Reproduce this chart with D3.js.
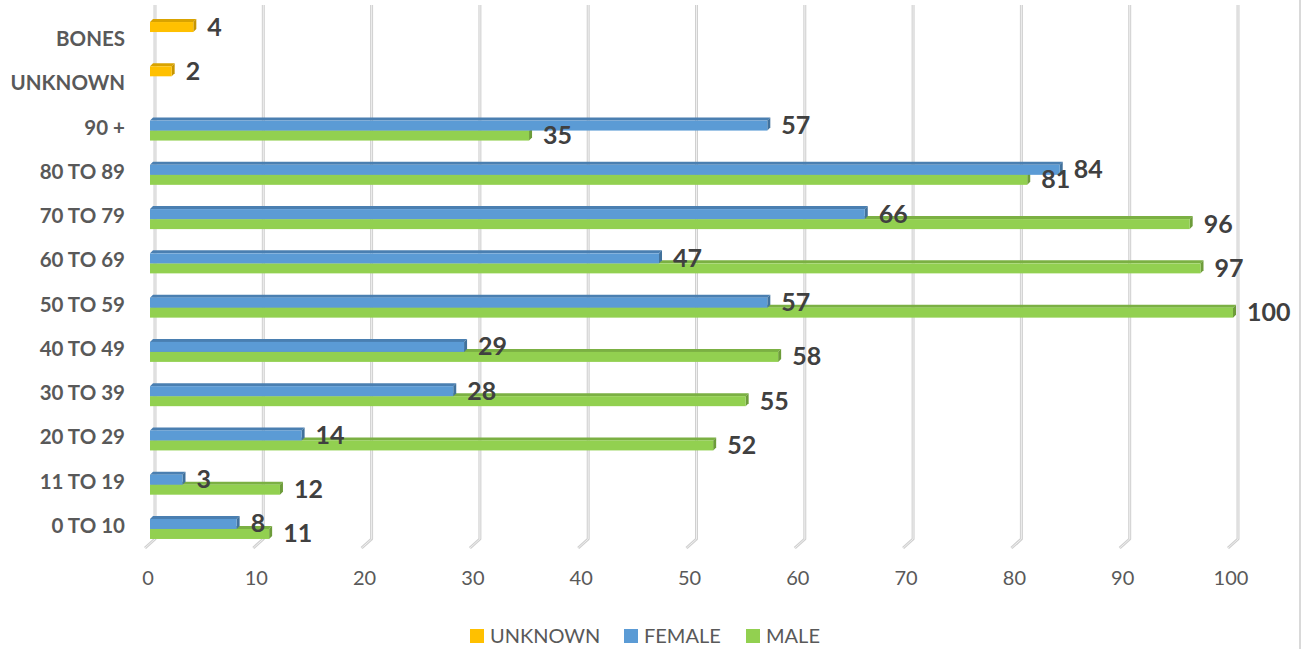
<!DOCTYPE html>
<html>
<head>
<meta charset="utf-8">
<script src="https://cdn.jsdelivr.net/npm/d3@7"></script>
<style>
  body { margin: 0; background: #fff; }
  svg { display: block; font-family: Lato, "Open Sans", sans-serif; }
</style>
</head>
<body>
<svg width="1305" height="649"></svg>
<script>
// categories, top to bottom
var categories = ["BONES", "UNKNOWN", "90 +", "80 TO 89", "70 TO 79", "60 TO 69",
                  "50 TO 59", "40 TO 49", "30 TO 39", "20 TO 29", "11 TO 19", "0 TO 10"];
var unknownVals = [4, 2, null, null, null, null, null, null, null, null, null, null];
var femaleVals  = [null, null, 57, 84, 66, 47, 57, 29, 28, 14, 3, 8];
var maleVals    = [null, null, 35, 81, 96, 97, 100, 58, 55, 52, 12, 11];
var seriesNames = ["UNKNOWN", "FEMALE", "MALE"];
var ticks = [0, 10, 20, 30, 40, 50, 60, 70, 80, 90, 100];

var colors = {
  UNKNOWN: {front: "#ffc000", top: "#d9a300", side: "#c79500"},
  FEMALE:  {front: "#5b9bd5", top: "#4a7fb1", side: "#41719c"},
  MALE:    {front: "#92d050", top: "#7bb043", side: "#6d9c3a"}
};

var svg = d3.select("svg"),
    width = +svg.attr("width"),
    height = +svg.attr("height");

var depth = 3;

var x = d3.scaleLinear().domain([0, 100]).range([150, 1233]);

var y = d3.scaleBand().domain(categories).range([16.4, 547.6]);

var inner = d3.scaleBand().domain(seriesNames).range([-16.5, 13.5]);

function center(c) { return y(c) + y.bandwidth() / 2; }

// right border
svg.append("line")
    .attr("x1", 1300).attr("x2", 1300).attr("y1", 0).attr("y2", height)
    .attr("stroke", "#d9d9d9").attr("stroke-width", 2);

// gridlines (back wall) with floor feet
var grid = svg.append("g").attr("class", "grid");
ticks.forEach(function(t) {
  var gx = x(t) + 5;
  var d = "M" + gx + ",5 L" + gx + ",539 L" + (gx - 10) + ",548";
  grid.append("path").attr("d", d).attr("fill", "none")
      .attr("stroke", "#d0d0d0").attr("stroke-width", 3).attr("stroke-linejoin", "round");
  grid.append("path").attr("d", d).attr("fill", "none")
      .attr("stroke", "#efefef").attr("stroke-width", 1);
  svg.append("text")
      .attr("x", gx - 7).attr("y", 585)
      .attr("text-anchor", "middle")
      .attr("fill", "#595959")
      .style("font-size", "20px")
      .text(t);
});

// build rows
var rows = categories.map(function(c, i) {
  return {cat: c, UNKNOWN: unknownVals[i], FEMALE: femaleVals[i], MALE: maleVals[i]};
});

var bars = svg.append("g").attr("class", "bars");
var drawOrder = ["MALE", "FEMALE", "UNKNOWN"];

rows.forEach(function(r) {
  drawOrder.forEach(function(s) {
    var v = r[s];
    if (v == null) return;
    var y0 = center(r.cat) + inner(s),
        y1 = y0 + inner.bandwidth(),
        x0 = x(0),
        x1 = x(v),
        col = colors[s];
    bars.append("path")
        .attr("d", "M" + x0 + "," + y0 + " L" + (x0 + depth) + "," + (y0 - depth) +
                   " L" + (x1 + depth) + "," + (y0 - depth) + " L" + x1 + "," + y0 + "Z")
        .attr("fill", col.top);
    bars.append("path")
        .attr("d", "M" + x1 + "," + y0 + " L" + (x1 + depth) + "," + (y0 - depth) +
                   " L" + (x1 + depth) + "," + (y1 - depth) + " L" + x1 + "," + y1 + "Z")
        .attr("fill", col.side);
    bars.append("rect")
        .attr("x", x0).attr("y", y0)
        .attr("width", x1 - x0).attr("height", y1 - y0)
        .attr("fill", col.front);
  });
});

// value labels
var labels = svg.append("g").attr("class", "labels");
rows.forEach(function(r) {
  seriesNames.forEach(function(s) {
    var v = r[s];
    if (v == null) return;
    labels.append("text")
        .attr("x", x(v) + depth + 11)
        .attr("y", center(r.cat) + inner(s) + inner.bandwidth() / 2 + 8.5)
        .attr("fill", "#404040")
        .style("font-size", "25px")
        .style("font-weight", "bold")
        .text(v);
  });
});

// category labels
svg.append("g").selectAll("text")
    .data(categories)
  .enter().append("text")
    .attr("x", 125)
    .attr("y", function(d) { return center(d) + 7.5; })
    .attr("text-anchor", "end")
    .attr("fill", "#595959")
    .style("font-size", "20.5px")
    .style("font-weight", "bold")
    .text(function(d) { return d; });

// legend
var legendX = [470, 624, 746];
var legend = svg.append("g").attr("class", "legend");
seriesNames.forEach(function(s, i) {
  legend.append("rect")
      .attr("x", legendX[i]).attr("y", 629)
      .attr("width", 14).attr("height", 14)
      .attr("fill", colors[s].front);
  legend.append("text")
      .attr("x", legendX[i] + 20).attr("y", 643)
      .attr("fill", "#595959")
      .style("font-size", "20px")
      .text(s);
});
</script>
</body>
</html>
